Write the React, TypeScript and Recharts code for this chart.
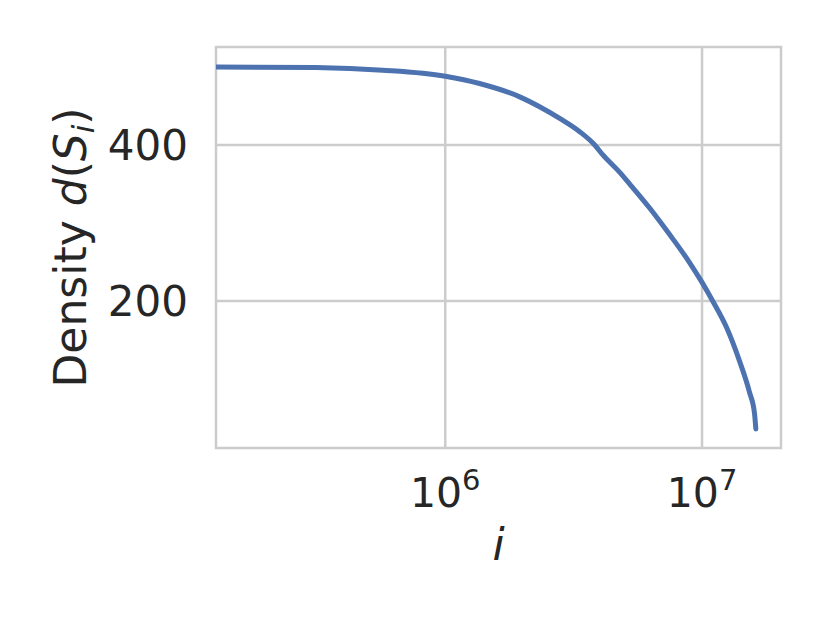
import React from "react";
import { LineChart, Line, XAxis, YAxis, CartesianGrid, ReferenceArea } from "recharts";

// values (log x axis)
const INDEX = [
  1.28e5, 3.13e5, 5.71e5, 1.0e6, 1.36e6, 1.95e6, 2.33e6, 2.79e6, 3.34e6, 3.82e6, 4.11e6, 4.78e6,
  5.22e6, 6.25e6, 7.48e6, 8.94e6, 1.0e7, 1.1e7, 1.245e7, 1.4e7, 1.53e7, 1.6e7, 1.62e7,
];
const DENSITY = [
  500, 499.2, 495.8, 488.1, 478.8, 461.7, 449, 434.1, 417, 400, 387.2, 364.9,
  350.2, 319.2, 285.1, 249.3, 223.8, 200, 166.2, 122.8, 83.2, 56.4, 36,
];

const X_TICKS = [1e6, 1e7];
const Y_TICKS = [200, 400];
const X_DOMAIN = [1.28e5, 2.03e7];
const Y_DOMAIN = [11.5, 525.6];

const data = INDEX.map((i, k) => ({ i, d: DENSITY[k] }));

const TEXT = "#262626";
const GRID = "#cccccc";
const FONT = "DejaVu Sans";

function PowerTick({ x, y, payload }: any) {
  const exp = Math.round(Math.log10(payload.value));
  return (
    <text x={x} y={y + 59} textAnchor="middle" fill={TEXT} fontSize={41} fontFamily={FONT}>
      <tspan>10</tspan>
      <tspan dy={-17} fontSize={29}>{exp}</tspan>
    </text>
  );
}

function YLabel({ viewBox }: any) {
  const cy = viewBox.y + viewBox.height / 2;
  return (
    <text
      x={86}
      y={cy}
      transform={`rotate(-90, 86, ${cy})`}
      textAnchor="middle"
      fill={TEXT}
      fontSize={44}
      fontFamily={FONT}
    >
      <tspan>Density </tspan>
      <tspan fontStyle="italic">d</tspan>
      <tspan>(</tspan>
      <tspan fontStyle="italic">S</tspan>
      <tspan fontStyle="italic" fontSize={31} dy={8}>i</tspan>
      <tspan dy={-8}>)</tspan>
    </text>
  );
}

function XLabel({ viewBox }: any) {
  const cx = viewBox.x + viewBox.width / 2;
  return (
    <text x={cx} y={viewBox.y + 112} textAnchor="middle" fill={TEXT} fontSize={44} fontFamily={FONT} fontStyle="italic">
      i
    </text>
  );
}

export default function App() {
  return (
    <div style={{ position: "absolute", left: 0, top: 0, width: 830, height: 623, background: "#fff" }}>
      <LineChart width={830} height={623} data={data} margin={{ top: 47, right: 49, left: 0, bottom: 0 }}>
        <CartesianGrid stroke={GRID} strokeWidth={2.5} horizontalValues={Y_TICKS} verticalValues={X_TICKS} />
        <XAxis
          dataKey="i"
          type="number"
          scale="log"
          domain={X_DOMAIN}
          allowDataOverflow
          ticks={X_TICKS}
          tick={<PowerTick />}
          tickSize={0}
          tickMargin={0}
          axisLine={false}
          height={175}
          label={<XLabel />}
        />
        <YAxis
          type="number"
          domain={Y_DOMAIN}
          allowDataOverflow
          ticks={Y_TICKS}
          tick={{ fill: TEXT, fontSize: 42, fontFamily: FONT }}
          tickSize={0}
          tickMargin={28}
          axisLine={false}
          width={216}
          label={<YLabel />}
        />
        <ReferenceArea
          x1={X_DOMAIN[0]}
          x2={X_DOMAIN[1]}
          y1={Y_DOMAIN[0]}
          y2={Y_DOMAIN[1]}
          fill="none"
          stroke={GRID}
          strokeWidth={2.5}
          ifOverflow="visible"
        />
        <Line
          dataKey="d"
          type="monotone"
          stroke="#4c72b0"
          strokeWidth={5}
          strokeLinecap="round"
          dot={false}
          isAnimationActive={false}
        />
      </LineChart>
    </div>
  );
}
